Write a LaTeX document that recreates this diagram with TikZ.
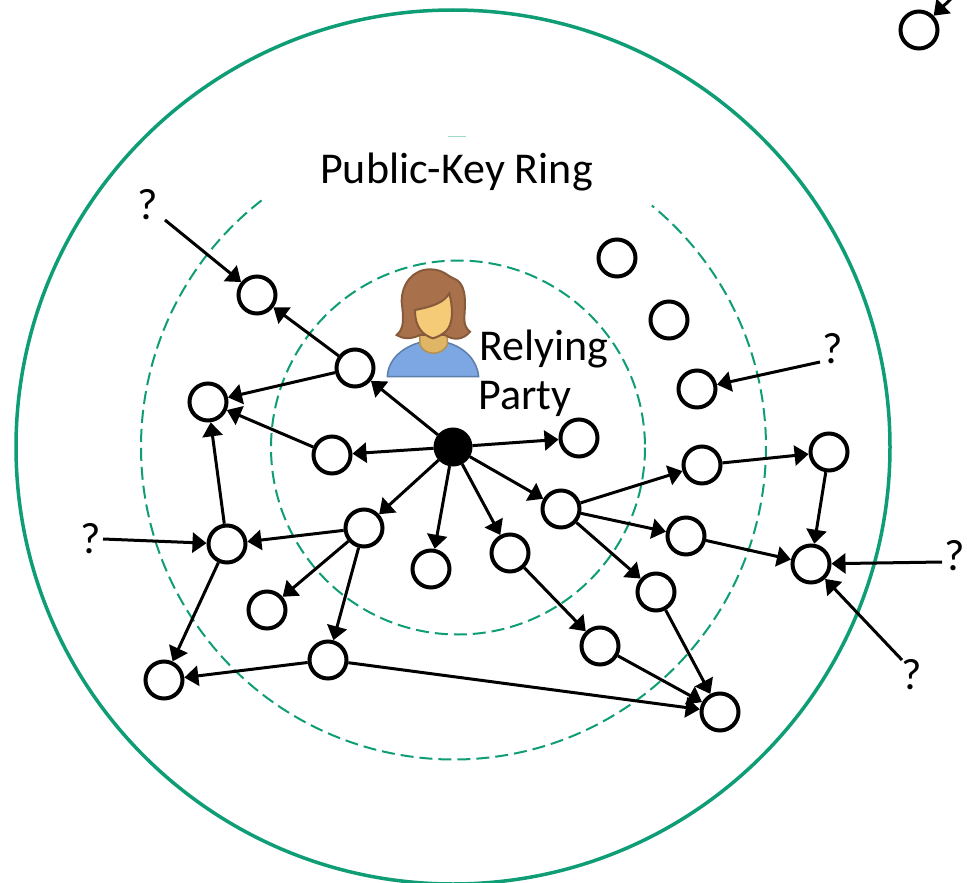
\documentclass[tikz,border=0pt]{standalone}
\usepackage{fontspec}
\setmainfont{Carlito}
\usetikzlibrary{arrows.meta}
\definecolor{ringgreen}{HTML}{0F9D76}
\definecolor{personblue}{HTML}{7CA7E3}
\definecolor{necktan}{HTML}{E0B566}
\definecolor{hairbrown}{HTML}{A9714B}
\definecolor{facetan}{HTML}{F5CB78}
\tikzset{
  x=1pt,y=-1pt,
  ring/.style={circle,draw=black,fill=white,line width=4pt,minimum size=37pt,inner sep=0pt},
  hub/.style={circle,draw=black,fill=black,line width=2pt,minimum size=37pt,inner sep=0pt},
  edge/.style={draw=black,line width=3pt,-{Triangle[length=14pt,width=20pt]}},
  ringline/.style={draw=ringgreen,line width=2pt,dash pattern=on 13pt off 6pt},
  lab/.style={font=\fontsize{44}{44}\selectfont,inner sep=0pt,anchor=base},
  qm/.style={font=\fontsize{44}{44}\selectfont,inner sep=0pt,anchor=base}
}
\begin{document}
\begin{tikzpicture}
\path[use as bounding box,clip] (0,0) rectangle (967,883);
\fill[white] (0,0) rectangle (967,883);
\coordinate (cc) at (453,447);
\draw[ringgreen,line width=3.5pt] (cc) circle[radius=437];
\draw[ringline] (458,447.5) circle[radius=187];
\draw[ringline,shift={(453.5,447)}] (232.1:312.5) arc[start angle=232.1,end angle=-50.6,radius=312.5];
\draw[ringgreen!40,line width=1pt] (448,136) -- (466,136);
% person
\begin{scope}[shift={(360,250)},x=0.3333pt,y=-0.3333pt]
\draw[fill=personblue,draw=personblue!75!black,line width=1.5pt] (82,380) .. controls (85,320) and (140,285) .. (190,275) -- (250,275) .. controls (300,285) and (350,320) .. (356,380) -- cycle;
\draw[fill=necktan,draw=necktan!80!black,line width=1.5pt] (180,255) -- (180,285) .. controls (195,318) and (245,318) .. (262,285) -- (262,255) -- cycle;
\draw[fill=hairbrown,draw=hairbrown!80!black,line width=2pt] (210,58) .. controls (250,58) and (265,80) .. (280,85) .. controls (310,95) and (315,130) .. (315,160) .. controls (315,200) and (305,225) .. (330,245) .. controls (310,270) and (280,272) .. (255,255) -- (180,255) .. controls (150,270) and (125,265) .. (110,255) .. controls (135,235) and (130,200) .. (125,155) .. controls (125,100) and (160,58) .. (210,58) -- cycle;
\draw[fill=facetan,draw=hairbrown!80!black,line width=2pt] (165,180) .. controls (215,170) and (250,160) .. (268,130) .. controls (278,170) and (280,210) .. (265,235) .. controls (250,255) and (230,262) .. (218,265) .. controls (190,255) and (165,235) .. (165,180) -- cycle;
\end{scope}
% nodes
\node[hub] (c) at (453,447) {};
\node[ring] (top) at (919,30) {};
\node[ring] (a1) at (617,258) {};
\node[ring] (a2) at (669,320) {};
\node[ring] (a3) at (697,389) {};
\node[ring] (ul) at (257,295) {};
\node[ring] (um) at (355,368) {};
\node[ring] (lf) at (208,402) {};
\node[ring] (ml) at (332,455) {};
\node[ring] (mr) at (579,438) {};
\node[ring] (r0) at (561,509) {};
\node[ring] (r1) at (702,465) {};
\node[ring] (r2) at (829,452) {};
\node[ring] (r3) at (686,536) {};
\node[ring] (r4) at (811,564) {};
\node[ring] (r5) at (656,592) {};
\node[ring] (r6) at (600,646) {};
\node[ring] (br) at (720,712) {};
\node[ring] (s1) at (510,553) {};
\node[ring] (s2) at (431,569) {};
\node[ring] (s3) at (364,528) {};
\node[ring] (l1) at (227,544) {};
\node[ring] (l2) at (267,610) {};
\node[ring] (l3) at (328,660) {};
\node[ring] (l4) at (164,680) {};
% free ends
\coordinate (q1) at (165,220);
\coordinate (q2) at (103,539);
\coordinate (q3) at (820,362);
\coordinate (q4) at (942,562);
\coordinate (q5) at (902,660);
\coordinate (q6) at (962,-12);
% edges
\foreach \f/\t in {c/um,c/ml,c/mr,c/s3,c/s2,c/s1,c/r0,um/ul,um/lf,ml/lf,l1/lf,s3/l1,s3/l2,s3/l3,l1/l4,l3/l4,l3/br,s1/r6,r6/br,r0/r1,r0/r3,r0/r5,r5/br,r1/r2,r2/r4,r3/r4,q1/ul,q2/l1,q3/a3,q4/r4,q5/r4,q6/top}
  \draw[edge] (\f) -- (\t);
% labels
\node[lab,anchor=base west] (title) at (320,183) {Public-Key Ring};
\node[lab,anchor=base west] (rp1) at (479,360) {Relying};
\node[lab,anchor=base west] (rp2) at (478,409) {Party};
\node[qm] (m1) at (148,219) {?};
\node[qm] (m2) at (91,553) {?};
\node[qm] (m3) at (833,363) {?};
\node[qm] (m4) at (955,570) {?};
\node[qm] (m5) at (912,689) {?};
\end{tikzpicture}
\end{document}
